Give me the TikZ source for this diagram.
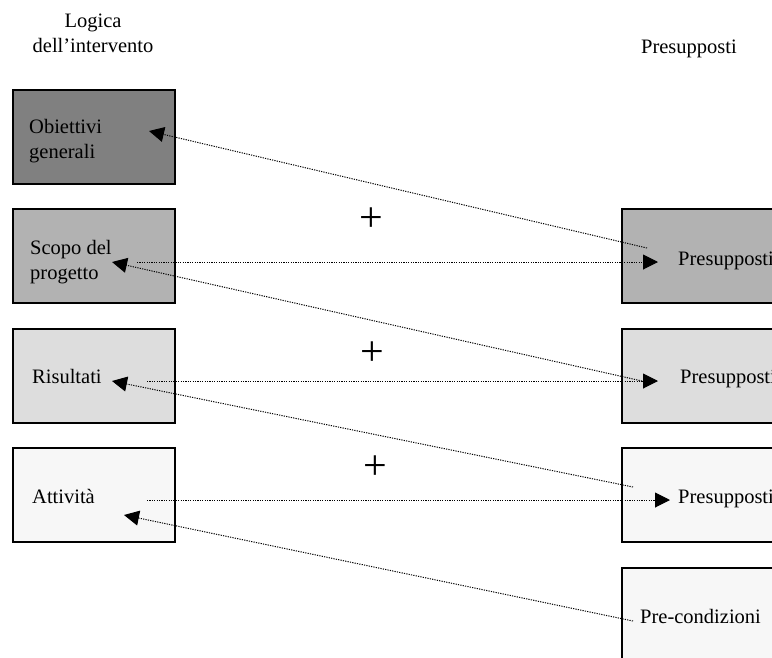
\documentclass[tikz,border=0pt]{standalone}
\usepackage{fontspec}
\setmainfont{Liberation Serif}
\usetikzlibrary{arrows.meta}
\definecolor{obcol}{HTML}{808080}
\definecolor{sccol}{HTML}{B2B2B2}
\definecolor{rscol}{HTML}{DDDDDD}
\definecolor{atcol}{HTML}{F7F7F7}

\begin{document}
\begin{tikzpicture}[x=1pt, y=-1pt, >={Triangle[length=15pt,width=15pt]},
  box/.style={draw, line width=1.5pt, minimum width=162pt, minimum height=94pt, inner sep=0pt, anchor=north west},
  pbox/.style={draw, line width=1.5pt, minimum width=190pt, minimum height=94pt, inner sep=0pt, anchor=north west},
  txt/.style={font=\fontsize{20.5}{25}\selectfont, inner sep=0pt, align=left},
  link/.style={line width=1pt, dash pattern=on 1.2pt off 1.2pt},
  plus/.style={font=\fontsize{42}{42}\selectfont, inner sep=0pt}]
  \path[use as bounding box, clip] (0,0) rectangle (772,657);
  % headings
  \node[txt, align=center] (logica) at (93,33) {Logica\\dell'intervento};
  \node[txt, anchor=base] (presupp) at (689,53) {Presupposti};
  % left column
  \node[box, fill=obcol] (ob) at (12,89) {};
  \node[box, fill=sccol] (sc) at (12,208) {};
  \node[box, fill=rscol] (rs) at (12,328) {};
  \node[box, fill=atcol] (at) at (12,447) {};
  \node[txt, anchor=west] (obtxt) at (29,141) {Obiettivi\\generali};
  \node[txt, anchor=west] (sctxt) at (30,262) {Scopo del\\progetto};
  \node[txt, anchor=base west] (rstxt) at (32,383) {Risultati};
  \node[txt, anchor=base west] (attxt) at (32,503) {Attività};
  % right column
  \node[pbox, fill=sccol] (p1) at (621,208) {};
  \node[pbox, fill=rscol] (p2) at (621,328) {};
  \node[pbox, fill=atcol] (p3) at (621,447) {};
  \node[pbox, fill=atcol] (pc) at (621,567) {};
  \node[txt, anchor=base west] (p1txt) at (678,265) {Presupposti};
  \node[txt, anchor=base west] (p2txt) at (680,383) {Presupposti};
  \node[txt, anchor=base west] (p3txt) at (678,503) {Presupposti};
  \node[txt, anchor=base west] (pctxt) at (640,623) {Pre-condizioni};
  % plus signs
  \node[plus] (plus1) at (371,220) {+};
  \node[plus] (plus2) at (372,354) {+};
  \node[plus] (plus3) at (375,468) {+};
  % link ends
  \coordinate (obin) at (149,131);
  \coordinate (p1a) at (647,248);
  \coordinate (scout) at (137,262);
  \coordinate (p1in) at (658,262);
  \coordinate (scin) at (112,262);
  \coordinate (p2a) at (642,381);
  \coordinate (rsout) at (147,381);
  \coordinate (p2in) at (658,381);
  \coordinate (rsin) at (112,381);
  \coordinate (p3a) at (633,487);
  \coordinate (atout) at (147,500);
  \coordinate (p3in) at (670,500);
  \coordinate (atin) at (124,515);
  \coordinate (pca) at (633,621);
  % links
  \draw[link, ->] (p1a) -- (obin);
  \draw[link, ->] (scout) -- (p1in);
  \draw[link, ->] (p2a) -- (scin);
  \draw[link, ->] (rsout) -- (p2in);
  \draw[link, ->] (p3a) -- (rsin);
  \draw[link, ->] (atout) -- (p3in);
  \draw[link, ->] (pca) -- (atin);
\end{tikzpicture}
\end{document}
